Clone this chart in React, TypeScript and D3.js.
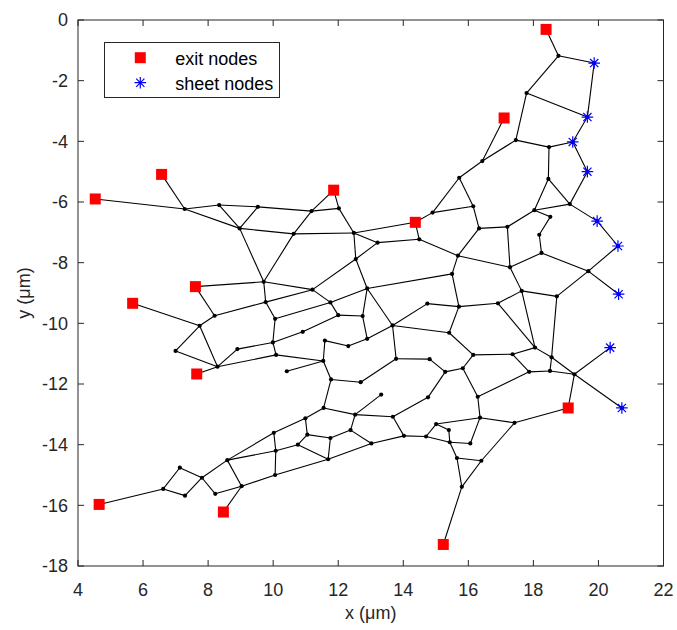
import React from "react";
import * as d3 from "d3";

// Network node positions in micrometres: [id, x, y]
const nodes: [string, number, number][] = [
  ["A", 7.28, -6.23], ["B", 8.34, -6.10], ["C", 9.53, -6.16], ["D", 8.97, -6.87],
  ["E", 9.71, -8.63], ["F", 8.20, -9.75], ["G", 7.74, -10.08], ["H", 9.77, -9.30],
  ["I", 10.06, -9.85], ["J", 7.00, -10.91], ["K", 8.90, -10.85], ["L", 9.99, -10.63],
  ["M", 10.09, -11.04], ["N", 8.29, -11.43],
  ["P1", 11.18, -6.30], ["P2", 12.02, -6.21], ["P3", 10.63, -7.05], ["P4", 12.48, -7.02],
  ["P5", 13.21, -7.34], ["P6", 14.49, -7.23], ["P7", 14.90, -6.35], ["P8", 16.15, -6.14],
  ["P9", 12.54, -7.88], ["P10", 15.68, -7.77], ["P11", 15.50, -8.37], ["P12", 11.21, -8.89],
  ["P13", 12.89, -8.85], ["P14", 11.76, -9.31], ["P15", 15.71, -9.45], ["P16", 14.74, -9.35],
  ["P17", 12.00, -9.73], ["P18", 12.75, -9.76], ["P19", 13.67, -10.07], ["P20", 10.91, -10.28],
  ["P21", 15.41, -10.31], ["P22", 12.89, -10.51], ["P23", 11.59, -10.57], ["P24", 12.31, -10.75],
  ["P25", 16.15, -11.04], ["P26", 11.54, -11.24], ["P27", 13.78, -11.17], ["P28", 14.81, -11.18],
  ["P29", 10.42, -11.58], ["P30", 15.29, -11.60], ["P31", 15.83, -11.48], ["P32", 11.78, -11.85],
  ["P33", 12.69, -11.94],
  ["Q1", 15.72, -5.20],
  ["R1", 16.33, -6.87], ["R2", 17.20, -6.82], ["R3", 18.03, -6.27], ["R4", 19.12, -6.07],
  ["R5", 18.52, -6.49], ["R6", 18.18, -7.08], ["R7", 18.25, -7.68], ["R8", 17.28, -8.15],
  ["R9", 19.69, -8.28], ["R10", 18.72, -9.11], ["R11", 17.64, -8.93], ["R12", 16.91, -9.34],
  ["R13", 18.05, -10.80], ["R14", 18.56, -11.12], ["R15", 17.36, -11.02], ["R16", 17.87, -11.60],
  ["R17", 18.51, -11.57], ["R18", 19.26, -11.68],
  ["T1", 18.77, -1.18], ["T2", 17.79, -2.41], ["T3", 17.46, -3.96], ["T4", 18.48, -4.19],
  ["T5", 16.43, -4.65], ["T6", 18.46, -5.24],
  ["U1", 6.62, -15.46], ["U2", 7.13, -14.76], ["U3", 7.29, -15.68], ["U4", 7.81, -15.09],
  ["U5", 8.22, -15.62], ["U6", 9.03, -15.37], ["U7", 8.59, -14.51], ["U8", 10.02, -13.61],
  ["U9", 10.08, -14.20], ["U10", 10.06, -15.00],
  ["V1", 13.32, -12.35], ["V2", 14.76, -12.44], ["V3", 11.55, -12.79], ["V4", 12.52, -13.01],
  ["V5", 13.68, -13.08], ["V6", 10.99, -13.13], ["V7", 12.38, -13.52], ["V8", 11.05, -13.67],
  ["V9", 11.76, -13.78], ["V10", 10.76, -14.00], ["V11", 13.02, -13.96], ["V12", 11.69, -14.48],
  ["V13", 14.02, -13.71], ["V14", 14.70, -13.73], ["V15", 15.01, -13.32], ["V16", 15.40, -13.52],
  ["V17", 15.43, -13.92], ["V18", 16.06, -13.96], ["V19", 16.29, -12.42], ["V20", 15.65, -14.44],
  ["V21", 15.80, -15.39],
  ["W1", 16.36, -13.11], ["W2", 17.42, -13.28], ["W3", 16.40, -14.53],
  ["S1", 19.96, -6.63], ["S2", 20.60, -7.45], ["S3", 20.62, -9.04], ["S4", 20.36, -10.80],
  ["S5", 19.87, -1.42], ["S6", 19.66, -3.20], ["S7", 19.21, -4.02], ["S8", 19.66, -5.00],
  ["S9", 20.72, -12.79],
  ["E1", 4.53, -5.90], ["E2", 6.57, -5.09], ["E3", 11.86, -5.61], ["E4", 14.37, -6.67],
  ["E5", 17.10, -3.23], ["E6", 18.39, -0.31], ["E7", 7.61, -8.79], ["E8", 5.68, -9.34],
  ["E9", 7.65, -11.67], ["E10", 4.65, -15.97], ["E11", 8.47, -16.22], ["E12", 15.23, -17.29],
  ["E13", 19.07, -12.79],
];

// Connections between nodes
const edges: [string, string][] = [
  ["E1", "A"], ["E2", "A"], ["A", "B"], ["A", "D"], ["B", "C"], ["B", "D"], ["C", "D"], ["C", "P1"],
  ["D", "E"], ["D", "P3"], ["E", "E7"], ["E", "H"], ["E", "P3"], ["E", "P12"],
  ["E7", "F"], ["F", "G"], ["F", "H"], ["E8", "G"], ["G", "J"], ["G", "N"], ["J", "N"], ["N", "E9"],
  ["N", "K"], ["K", "L"], ["N", "M"], ["H", "I"], ["H", "P12"], ["I", "L"], ["I", "P14"], ["L", "M"],
  ["L", "P20"], ["M", "P26"],
  ["P1", "P2"], ["P1", "P3"], ["P1", "E3"], ["P2", "E3"], ["P2", "P4"], ["P3", "P4"],
  ["P4", "P5"], ["P4", "E4"], ["P4", "P9"], ["P5", "P6"], ["P5", "P9"], ["P6", "E4"], ["P6", "P10"],
  ["E4", "P7"], ["P7", "P8"], ["P7", "Q1"], ["Q1", "P8"], ["Q1", "T5"], ["P8", "R1"],
  ["P9", "P12"], ["P9", "P13"], ["P12", "P14"], ["P13", "P14"], ["P13", "P18"], ["P13", "P19"],
  ["P13", "P11"], ["P14", "P17"], ["P17", "P18"], ["P17", "P20"], ["P18", "P22"], ["P19", "P16"],
  ["P19", "P21"], ["P19", "P22"], ["P19", "P27"], ["P16", "P15"], ["P15", "P11"], ["P15", "P21"],
  ["P15", "R12"], ["P11", "P10"], ["P10", "R1"], ["P10", "R8"], ["P21", "P25"], ["P22", "P24"],
  ["P24", "P23"], ["P23", "P26"], ["P26", "P29"], ["P26", "P32"], ["P27", "P28"], ["P27", "P33"],
  ["P33", "P32"], ["P28", "P30"], ["P30", "P31"], ["P30", "V2"], ["P31", "P25"], ["P31", "V19"],
  ["P25", "R15"],
  ["R1", "R2"], ["R2", "R3"], ["R2", "R8"], ["R3", "R4"], ["R3", "R5"], ["R3", "T6"], ["R5", "R6"],
  ["R6", "R7"], ["R7", "R8"], ["R7", "R9"], ["R8", "R11"], ["R4", "T6"], ["R4", "S8"], ["R4", "S1"],
  ["S1", "S2"], ["S2", "R9"], ["R9", "S3"], ["R9", "R10"], ["R10", "R11"], ["R10", "R14"],
  ["R11", "R12"], ["R11", "R13"], ["R12", "R13"], ["R13", "R14"], ["R13", "R15"], ["R15", "R16"],
  ["R16", "R17"], ["R14", "R17"], ["R14", "R18"], ["R17", "R18"], ["R18", "S4"], ["R18", "E13"],
  ["R18", "S9"], ["R16", "V19"],
  ["T1", "E6"], ["T1", "S5"], ["T1", "T2"], ["T2", "S6"], ["S5", "S6"], ["T2", "T3"], ["S6", "S7"],
  ["T3", "T4"], ["T4", "S7"], ["T3", "T5"], ["T5", "E5"], ["S7", "S8"], ["T4", "T6"],
  ["E10", "U1"], ["U1", "U2"], ["U1", "U3"], ["U2", "U4"], ["U3", "U4"], ["U4", "U5"], ["U4", "U7"],
  ["U5", "U6"], ["U7", "U6"], ["U6", "E11"], ["U7", "U8"], ["U7", "U9"], ["U8", "U9"], ["U9", "U10"],
  ["U6", "U10"], ["U8", "V6"], ["U9", "V10"], ["U10", "V12"],
  ["P32", "V3"], ["V3", "V6"], ["V3", "V4"], ["V4", "V1"], ["V4", "V5"], ["V4", "V7"], ["V6", "V8"],
  ["V8", "V9"], ["V7", "V9"], ["V7", "V11"], ["V8", "V10"], ["V10", "V12"], ["V9", "V12"],
  ["V12", "V11"], ["V11", "V13"], ["V5", "V13"], ["V5", "V2"], ["V13", "V14"], ["V14", "V15"],
  ["V14", "V17"], ["V15", "V16"], ["V16", "V17"], ["V15", "W1"], ["V17", "V18"], ["V18", "W1"],
  ["W1", "V19"], ["W1", "W2"], ["W2", "E13"], ["W2", "W3"], ["V17", "V20"], ["V20", "V21"],
  ["V20", "W3"], ["V21", "W3"], ["V21", "E12"],
];

const exitNodes = ["E1", "E2", "E3", "E4", "E5", "E6", "E7", "E8", "E9", "E10", "E11", "E12", "E13"];
const sheetNodes = ["S1", "S2", "S3", "S4", "S5", "S6", "S7", "S8", "S9"];

const xTicks = [4, 6, 8, 10, 12, 14, 16, 18, 20, 22];
const yTicks = [0, -2, -4, -6, -8, -10, -12, -14, -16, -18];

const W = 677;
const H = 630;
const FONT = "'Liberation Sans', Arial, Helvetica, sans-serif";
const AXIS = "#262626";
const FS = 18;

function starPath(cx: number, cy: number, r: number) {
  const d = r * Math.SQRT1_2;
  return `M${cx - r},${cy}L${cx + r},${cy}M${cx},${cy - r}L${cx},${cy + r}` +
    `M${cx - d},${cy - d}L${cx + d},${cy + d}M${cx - d},${cy + d}L${cx + d},${cy - d}`;
}

export default function App() {
  const x = d3.scaleLinear().domain([4, 22]).range([78, 663.5]);
  const y = d3.scaleLinear().domain([-18, 0]).range([566, 20]);
  const pos = new Map(nodes.map(([id, nx, ny]) => [id, [x(nx), y(ny)] as [number, number]]));
  const [x0, x1] = x.range();
  const [y0, y1] = y.range();
  const tickLen = 6;

  return (
    <svg width={W} height={H} style={{ position: "absolute", left: 0, top: 0, background: "#fff" }}
      fontFamily={FONT}>
      <rect x={0} y={0} width={W} height={H} fill="#fff" />

      {/* edges */}
      <g stroke="#000" strokeWidth={1.1} fill="none">
        {edges.map(([a, b], i) => {
          const p = pos.get(a)!;
          const q = pos.get(b)!;
          return <line key={i} x1={p[0]} y1={p[1]} x2={q[0]} y2={q[1]} />;
        })}
      </g>

      {/* nodes */}
      <g fill="#000">
        {nodes.map(([id]) => {
          const p = pos.get(id)!;
          return <circle key={id} cx={p[0]} cy={p[1]} r={2.1} />;
        })}
      </g>

      {/* exit nodes */}
      <g fill="#ff0000">
        {exitNodes.map((id) => {
          const p = pos.get(id)!;
          return <rect key={id} x={p[0] - 5.5} y={p[1] - 5.5} width={11} height={11} />;
        })}
      </g>

      {/* sheet nodes */}
      <g stroke="#0000ff" strokeWidth={1.2} fill="none">
        {sheetNodes.map((id) => {
          const p = pos.get(id)!;
          return <path key={id} d={starPath(p[0], p[1], 5.8)} />;
        })}
      </g>

      {/* axes box */}
      <rect x={x0} y={y1} width={x1 - x0} height={y0 - y1} fill="none" stroke={AXIS} strokeWidth={1} />
      <g stroke={AXIS} strokeWidth={1}>
        {xTicks.map((t) => (
          <g key={"xt" + t}>
            <line x1={x(t)} x2={x(t)} y1={y0} y2={y0 - tickLen} />
            <line x1={x(t)} x2={x(t)} y1={y1} y2={y1 + tickLen} />
          </g>
        ))}
        {yTicks.map((t) => (
          <g key={"yt" + t}>
            <line x1={x0} x2={x0 + tickLen} y1={y(t)} y2={y(t)} />
            <line x1={x1} x2={x1 - tickLen} y1={y(t)} y2={y(t)} />
          </g>
        ))}
      </g>
      <g fontSize={FS} fill={AXIS}>
        {xTicks.map((t) => (
          <text key={"xl" + t} x={x(t)} y={596} textAnchor="middle">{t}</text>
        ))}
        {yTicks.map((t) => (
          <text key={"yl" + t} x={x0 - 10} y={y(t) + 6.4} textAnchor="end">{t}</text>
        ))}
        <text x={(x0 + x1) / 2} y={619} textAnchor="middle">x (μm)</text>
        <text transform={`translate(30,${(y0 + y1) / 2}) rotate(-90)`} textAnchor="middle">y (μm)</text>
      </g>

      {/* legend */}
      <g>
        <rect x={104.5} y={42.5} width={175} height={55} fill="#fff" stroke={AXIS} strokeWidth={1} />
        <rect x={140.3 - 5.5} y={57.7 - 5.5} width={11} height={11} fill="#ff0000" />
        <path d={starPath(140.3, 82.7, 5.8)} stroke="#0000ff" strokeWidth={1.2} fill="none" />
        <text x={175.3} y={65} fontSize={FS} fill="#000">exit nodes</text>
        <text x={175.3} y={90} fontSize={FS} fill="#000">sheet nodes</text>
      </g>
    </svg>
  );
}
